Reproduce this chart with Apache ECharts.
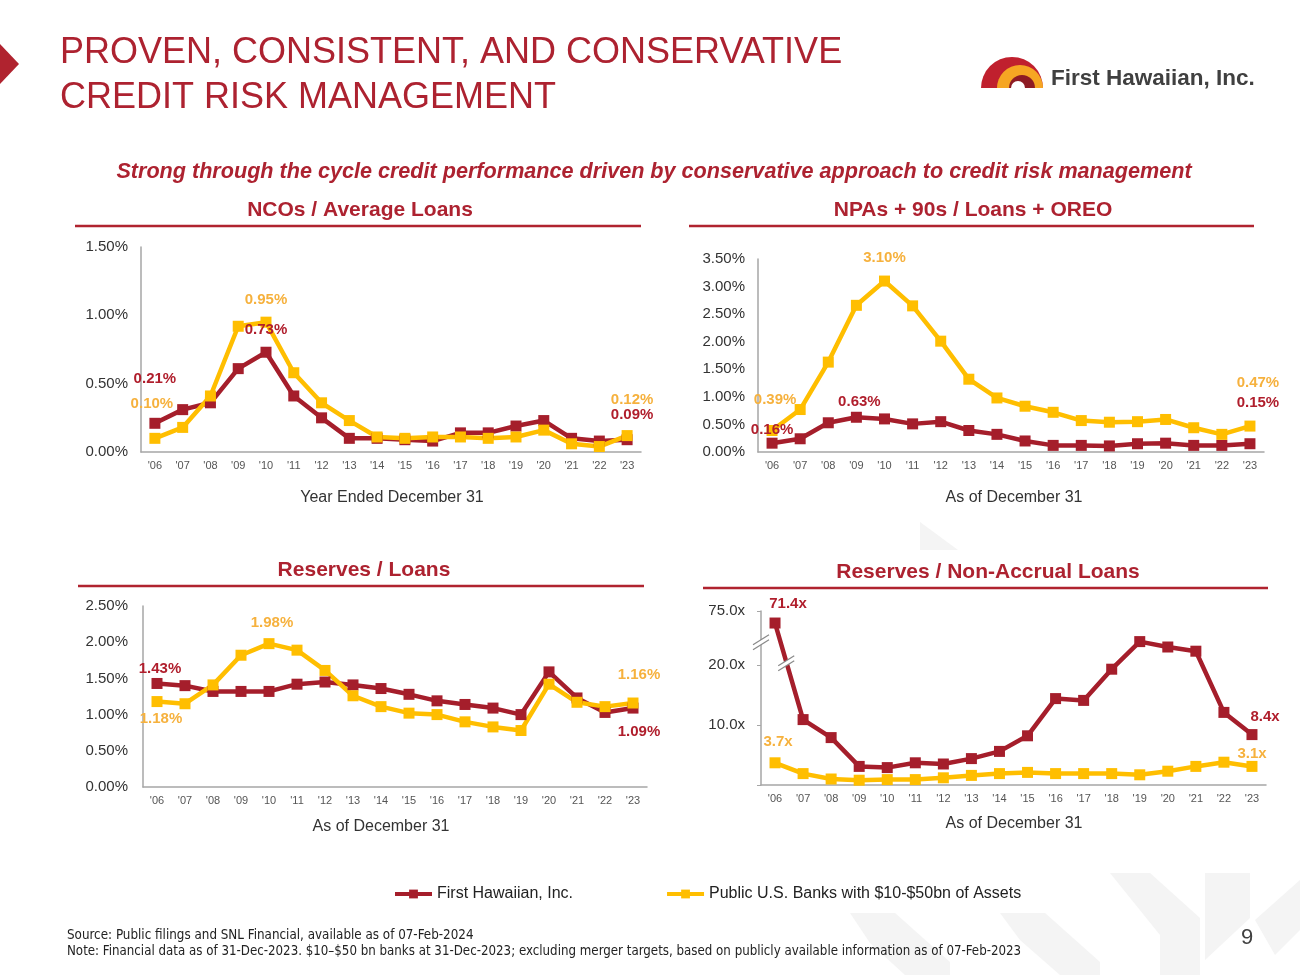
<!DOCTYPE html>
<html><head><meta charset="utf-8">
<script src="https://cdn.jsdelivr.net/npm/echarts@6/dist/echarts.min.js"></script>
<style>html,body{margin:0;padding:0;background:#fff}#c{width:1300px;height:975px}</style>
</head><body><div id="c"></div>
<script>
// ---------- DATA ----------
const years = ["'06","'07","'08","'09","'10","'11","'12","'13","'14","'15","'16","'17","'18","'19","'20","'21","'22","'23"];
const seriesNames = ['First Hawaiian, Inc.', 'Public U.S. Banks with $10-$50bn of Assets'];
// NCOs / Average Loans (%)
const ncoFHB  = [0.21,0.31,0.36,0.61,0.73,0.41,0.25,0.10,0.10,0.09,0.08,0.14,0.14,0.19,0.23,0.10,0.08,0.09];
const ncoPeer = [0.10,0.18,0.41,0.92,0.95,0.58,0.36,0.23,0.11,0.10,0.11,0.11,0.10,0.11,0.16,0.06,0.04,0.12];
// NPAs + 90s / Loans + OREO (%)
const npaFHB  = [0.16,0.24,0.53,0.63,0.60,0.51,0.55,0.39,0.32,0.20,0.12,0.12,0.11,0.15,0.16,0.12,0.12,0.15];
const npaPeer = [0.39,0.77,1.63,2.66,3.10,2.65,2.01,1.32,0.98,0.83,0.72,0.57,0.54,0.55,0.59,0.44,0.32,0.47];
// Reserves / Loans (%)
const resFHB  = [1.43,1.40,1.32,1.32,1.32,1.42,1.45,1.41,1.36,1.28,1.19,1.14,1.09,1.00,1.59,1.23,1.03,1.09];
const resPeer = [1.18,1.15,1.41,1.82,1.98,1.89,1.61,1.26,1.11,1.02,1.00,0.90,0.83,0.78,1.42,1.17,1.11,1.16];
// Reserves / Non-Accrual Loans (x)
const covFHB  = [71.4,10.9,7.9,3.1,2.9,3.7,3.5,4.4,5.6,8.2,14.4,14.1,19.3,23.9,23.0,22.3,12.1,8.4];
const covPeer = [3.7,1.9,1.0,0.8,0.9,0.9,1.2,1.6,1.9,2.1,1.9,1.9,1.9,1.7,2.3,3.1,3.8,3.1];
// axis tick labels
const ncoTicks = ['0.00%','0.50%','1.00%','1.50%'];
const npaTicks = ['0.00%','0.50%','1.00%','1.50%','2.00%','2.50%','3.00%','3.50%'];
const resTicks = ['0.00%','0.50%','1.00%','1.50%','2.00%','2.50%'];
const covTicks = ['', '10.0x', '20.0x', '75.0x'];

// ---------- STYLE ----------
const RED = '#A51E2B', YEL = '#FFBE00', RED_L = '#B01E2C', YEL_L = '#F6B13D';
const TITLE_RED = '#AD2230';
const FONT = "'Liberation Sans', Arial, sans-serif";
const NARROW = "'Liberation Sans Narrow','DejaVu Sans Condensed',sans-serif";
const AXIS_GRAY = '#A6A6A6';

// broken axis for coverage chart: values above BREAK are compressed
const BREAK = 25, COMPRESS = 0.043, COV_MAX = 29;
const brk = v => v <= BREAK ? v : BREAK + (v - BREAK) * COMPRESS;

const grids = [
  {left:141, top:247, width:500, height:205},
  {left:758, top:259, width:506, height:193},
  {left:143, top:606, width:504, height:181},
  {left:761, top:611, width:505, height:174}
];

const xAxes = grids.map((g,i)=>({
  type:'category', gridIndex:i, data:years, boundaryGap:true,
  axisLine:{lineStyle:{color:AXIS_GRAY,width:1.5}}, axisTick:{show:false},
  axisLabel:{color:'#555', fontSize:11, fontFamily:FONT, margin:8}
}));

function pctAxis(i, max, ticks, margin){
  return {type:'value', gridIndex:i, min:0, max:max, interval:0.5,
    splitLine:{show:false}, axisTick:{show:false},
    axisLine:{show:true, lineStyle:{color:AXIS_GRAY,width:1.5}},
    axisLabel:{color:'#333', fontSize:15, fontFamily:FONT, margin:margin,
      formatter:(v)=>ticks[Math.round(v/0.5)]}};
}
const yAxes = [
  pctAxis(0, 1.5, ncoTicks, 13),
  pctAxis(1, 3.5, npaTicks, 13),
  pctAxis(2, 2.5, resTicks, 15),
  {type:'value', gridIndex:3, min:0, max:COV_MAX, interval:10,
    splitLine:{show:false},
    axisTick:{show:true, length:4, lineStyle:{color:AXIS_GRAY}},
    axisLine:{show:true, lineStyle:{color:AXIS_GRAY,width:1.5}},
    axisLabel:{color:'#333', fontSize:15, fontFamily:FONT, margin:16,
      formatter:(v)=> v >= COV_MAX ? covTicks[3] : covTicks[Math.round(v/10)]}}
];

// label placements (offset from point centre)
const labelPos = {
  ncoFHB:  {0:[0,-44], 4:[0,-22], 17:[5,-25]},
  ncoPeer: {0:[-3,-34], 4:[0,-22], 17:[5,-36]},
  npaFHB:  {0:[0,-13], 3:[3,-15], 17:[8,-41]},
  npaPeer: {0:[3,-31], 4:[0,-23], 17:[8,-43]},
  resFHB:  {0:[3,-15], 17:[6,24]},
  resPeer: {0:[4,17], 4:[3,-21], 17:[6,-28]},
  covFHB:  {0:[13,-19], 17:[13,-18]},
  covPeer: {0:[3,-21], 17:[0,-13]}
};

function mk(idx, which, key, vals, fmt, tf){
  const color = which === 0 ? RED : YEL;
  const lcolor = which === 0 ? RED_L : YEL_L;
  const lp = labelPos[key];
  return {
    type:'line', name:seriesNames[which], xAxisIndex:idx, yAxisIndex:idx,
    symbol:'rect', symbolSize:11, lineStyle:{color, width:4.5}, itemStyle:{color},
    animation:false, silent:true,
    data: vals.map((v,i)=>{
      const d = {value: tf ? tf(v) : v};
      if (lp[i]) d.label = {show:true, position:'inside', offset:lp[i], color:lcolor,
        fontSize:15, fontWeight:'bold', fontFamily:FONT, formatter:()=>fmt(vals[i])};
      return d;
    })
  };
}
const pf = v => v.toFixed(2)+'%';
const xf = v => v.toFixed(1)+'x';

const series = [
  mk(0,0,'ncoFHB',ncoFHB,pf), mk(0,1,'ncoPeer',ncoPeer,pf),
  mk(1,0,'npaFHB',npaFHB,pf), mk(1,1,'npaPeer',npaPeer,pf),
  mk(2,0,'resFHB',resFHB,pf), mk(2,1,'resPeer',resPeer,pf),
  mk(3,0,'covFHB',covFHB,xf,brk), mk(3,1,'covPeer',covPeer,xf,brk)
];

function txt(x,y,text,opt){
  return Object.assign({type:'text', x, y, silent:true,
    style:Object.assign({text, fontFamily:FONT, fill:'#333', fontSize:16, textAlign:'center', textVerticalAlign:'middle'}, opt||{})});
}
function hline(x1,x2,y,color,w){
  return {type:'line', silent:true, shape:{x1,y1:y,x2,y2:y}, style:{stroke:color, lineWidth:w}};
}
const gray = '#F4F4F4';
const baseGraphics = [
  // watermark shapes
  {type:'polygon', silent:true, shape:{points:[[920,522],[958,550],[920,550]]}, style:{fill:gray}},
  {type:'polygon', silent:true, shape:{points:[[1110,873],[1150,873],[1200,918],[1200,975],[1160,975],[1160,935]]}, style:{fill:gray}},
  {type:'polygon', silent:true, shape:{points:[[1205,873],[1250,873],[1250,918],[1205,960]]}, style:{fill:gray}},
  {type:'polygon', silent:true, shape:{points:[[1000,913],[1045,913],[1100,962],[1100,975],[1060,975],[1020,940]]}, style:{fill:gray}},
  {type:'polygon', silent:true, shape:{points:[[850,913],[895,913],[950,962],[950,975],[905,975],[870,943]]}, style:{fill:gray}},
  {type:'polygon', silent:true, shape:{points:[[1255,920],[1300,880],[1300,930],[1275,955]]}, style:{fill:gray}},
  // red marker at left
  {type:'polygon', silent:true, shape:{points:[[0,44],[19,64],[0,84]]}, style:{fill:'#B0232F'}},
  // title
  txt(60,53,'PROVEN, CONSISTENT, AND CONSERVATIVE',{fill:TITLE_RED,fontSize:36,textAlign:'left'}),
  txt(60,98,'CREDIT RISK MANAGEMENT',{fill:TITLE_RED,fontSize:36,textAlign:'left'}),
  // logo
  {type:'sector', silent:true, shape:{cx:1012,cy:88,r:31,r0:0,startAngle:Math.PI,endAngle:2*Math.PI}, style:{fill:'#C0202E'}},
  {type:'sector', silent:true, shape:{cx:1020,cy:88,r:23,r0:0,startAngle:Math.PI,endAngle:2*Math.PI}, style:{fill:'#F6A623'}},
  {type:'sector', silent:true, shape:{cx:1022,cy:88,r:13,r0:0,startAngle:Math.PI,endAngle:2*Math.PI}, style:{fill:'#8E1B24'}},
  {type:'sector', silent:true, shape:{cx:1018,cy:88,r:7,r0:0,startAngle:Math.PI,endAngle:2*Math.PI}, style:{fill:'#fff'}},
  txt(1051,79,'First Hawaiian, Inc.',{fill:'#404040',fontSize:22.5,fontWeight:'bold',textAlign:'left'}),
  // subtitle
  txt(654,172,'Strong through the cycle credit performance driven by conservative approach to credit risk management',
      {fill:TITLE_RED,fontSize:21.6,fontWeight:'bold',fontStyle:'italic'}),
  // chart titles
  txt(360,210,'NCOs / Average Loans',{fill:TITLE_RED,fontSize:21,fontWeight:'bold'}),
  hline(75,641,226,'#B0232F',2.5),
  txt(973,210,'NPAs + 90s / Loans + OREO',{fill:TITLE_RED,fontSize:21,fontWeight:'bold'}),
  hline(689,1254,226,'#B0232F',2.5),
  txt(364,570,'Reserves / Loans',{fill:TITLE_RED,fontSize:21,fontWeight:'bold'}),
  hline(78,644,586,'#B0232F',2.5),
  txt(988,572,'Reserves / Non-Accrual Loans',{fill:TITLE_RED,fontSize:21,fontWeight:'bold'}),
  hline(703,1268,588,'#B0232F',2.5),
  // axis titles
  txt(392,498,'Year Ended December 31'),
  txt(1014,498,'As of December 31'),
  txt(381,827,'As of December 31'),
  txt(1014,824,'As of December 31'),
  // footnotes
  txt(67,936,'Source: Public filings and SNL Financial, available as of 07-Feb-2024',
      {fontFamily:NARROW,fontSize:13.3,textAlign:'left',fill:'#222'}),
  txt(67,952,'Note: Financial data as of 31-Dec-2023. $10\u2013$50 bn banks at 31-Dec-2023; excluding merger targets, based on publicly available information as of 07-Feb-2023',
      {fontFamily:NARROW,fontSize:13.2,textAlign:'left',fill:'#222'}),
  txt(1247,938,'9',{fontSize:22,fill:'#404040'})
];

const chart = echarts.init(document.getElementById('c'), null, {renderer:'canvas'});
chart.setOption({
  backgroundColor:'#fff',
  animation:false,
  grid:grids,
  xAxis:xAxes,
  yAxis:yAxes,
  legend:{data:seriesNames, left:393, top:886, padding:0, itemWidth:37, itemHeight:11, itemGap:92,
    lineStyle:{width:4}, textStyle:{fontFamily:FONT, fontSize:16, color:'#222'}, selectedMode:false},
  series:series,
  graphic:baseGraphics
});

// axis-break marks on coverage chart
const pA = chart.convertToPixel({gridIndex:3}, [0, 23.7]);
const axX = grids[3].left;
const p0 = chart.convertToPixel({gridIndex:3}, [0, brk(covFHB[0])]);
const p1 = chart.convertToPixel({gridIndex:3}, [1, brk(covFHB[1])]);
const t = 0.4;
const lx = p0[0] + (p1[0]-p0[0])*t, ly = p0[1] + (p1[1]-p0[1])*t;
function slash(cx, cy){
  return [
    {type:'line', silent:true, z:100, shape:{x1:cx-8,y1:cy+4,x2:cx+8,y2:cy-6}, style:{stroke:'#888',lineWidth:1.2}},
    {type:'line', silent:true, z:100, shape:{x1:cx-8,y1:cy+9,x2:cx+8,y2:cy-1}, style:{stroke:'#888',lineWidth:1.2}}
  ];
}
const brkWhite = (cx,cy)=>({type:'polygon', silent:true, z:99, shape:{points:[[cx-8,cy+4],[cx+8,cy-6],[cx+8,cy-1],[cx-8,cy+9]]}, style:{fill:'#fff'}});
chart.setOption({graphic: baseGraphics.concat([brkWhite(axX, pA[1]-2)], slash(axX, pA[1]-2), [brkWhite(lx, ly)], slash(lx, ly))});
</script>
</body></html>
